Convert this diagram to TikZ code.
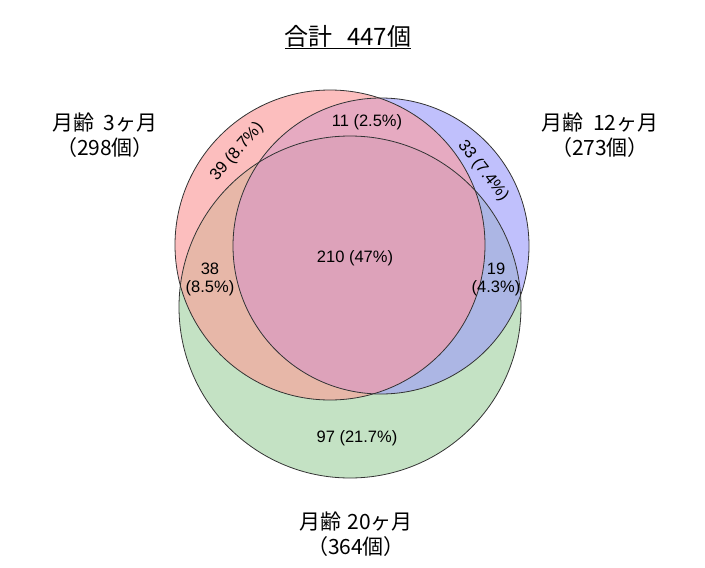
\documentclass[tikz,border=0pt]{standalone}
\usepackage{fontspec}
\setmainfont{Liberation Sans}
\newfontfamily\jp{Noto Sans CJK JP}
\definecolor{cR}{RGB}{252,190,190}
\definecolor{cB}{RGB}{192,192,252}
\definecolor{cG}{RGB}{196,226,196}
\definecolor{cRG}{RGB}{231,183,168}
\definecolor{cRB}{RGB}{230,170,193}
\definecolor{cBG}{RGB}{172,182,228}
\definecolor{cRBG}{RGB}{221,162,186}
\begin{document}
\begin{tikzpicture}[x=1pt,y=-1pt,
  num/.style={font=\fontsize{16.5}{18}\selectfont, inner sep=0pt, align=center},
  lab/.style={font=\jp\fontsize{21}{25}\selectfont, inner sep=0pt, align=center},
  ring/.style={draw=black!80, line width=0.8pt}]
\useasboundingbox (0,0) rectangle (705,568);
\coordinate (R) at (330,245);
\coordinate (B) at (381,246);
\coordinate (G) at (350,307);
% base fills
\fill[cR] (R) circle[radius=155pt];
\fill[cB] (B) circle[radius=148pt];
\fill[cG] (G) circle[radius=171pt];
% pairwise overlaps
\begin{scope}
  \clip (R) circle[radius=155pt];
  \fill[cRG] (G) circle[radius=171pt];
\end{scope}
\begin{scope}
  \clip (R) circle[radius=155pt];
  \fill[cRB] (B) circle[radius=148pt];
\end{scope}
\begin{scope}
  \clip (B) circle[radius=148pt];
  \fill[cBG] (G) circle[radius=171pt];
\end{scope}
% triple overlap
\begin{scope}
  \clip (R) circle[radius=155pt];
  \clip (B) circle[radius=148pt];
  \fill[cRBG] (G) circle[radius=171pt];
\end{scope}
% outlines
\draw[ring] (R) circle[radius=155pt];
\draw[ring] (B) circle[radius=148pt];
\draw[ring] (G) circle[radius=171pt];
% region labels
\node[num] (n11) at (367,122) {11 (2.5\%)};
\node[num, rotate=49] (n39) at (237,152) {39 (8.7\%)};
\node[num, rotate=-52] (n33) at (483,171) {33 (7.4\%)};
\node[num] (n210) at (355,258) {210 (47\%)};
\node[num] (n38) at (210,279) {38\\(8.5\%)};
\node[num] (n19) at (496,279) {19\\(4.3\%)};
\node[num] (n97) at (357,438) {97 (21.7\%)};
% set labels
\node[font=\jp\fontsize{24}{28}\selectfont, inner sep=0pt] (title) at (348,37) {\underline{合計\hspace{0.6em}447個}};
\node[lab] (l3) at (105,135.5) {月齢\hspace{0.45em}3ヶ月\\（298個）};
\node[lab] (l12) at (600,135.5) {月齢\hspace{0.45em}12ヶ月\\（273個）};
\node[lab] (l20) at (356,534) {月齢\hspace{0.3em}20ヶ月\\（364個）};
\end{tikzpicture}
\end{document}
